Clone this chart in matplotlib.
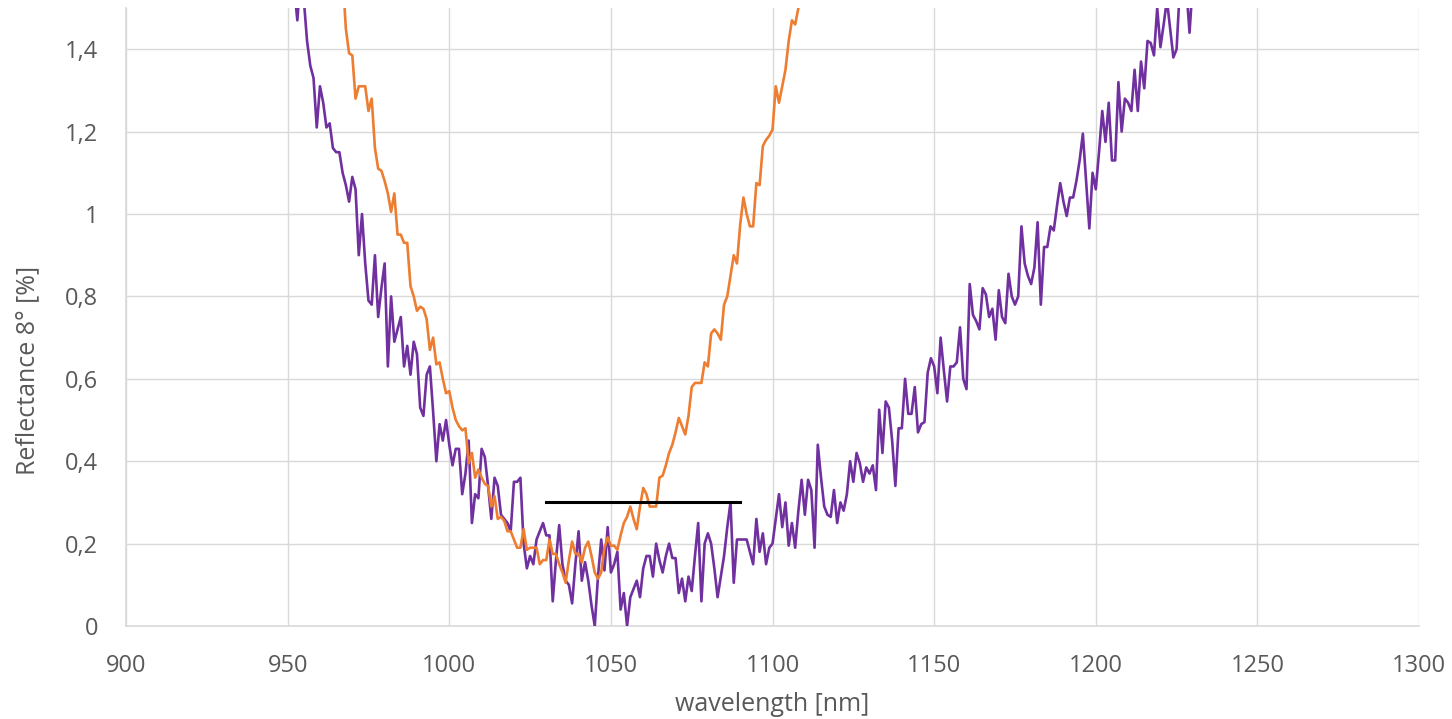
import numpy as np
import matplotlib
matplotlib.use("Agg")
import matplotlib.pyplot as plt

# purple curve, one value per nm, 951..1230
purple_start = 951
purple_vals = [
    1.62, 1.55, 1.47, 1.58, 1.52, 1.42, 1.36, 1.33, 1.21, 1.31,   # 951
    1.27, 1.21, 1.22, 1.16, 1.15, 1.15, 1.10, 1.07, 1.03, 1.09,   # 961
    1.06, 0.90, 1.00, 0.88, 0.79, 0.78, 0.90, 0.75, 0.82, 0.88,   # 971
    0.63, 0.80, 0.69, 0.72, 0.75, 0.63, 0.68, 0.61, 0.69, 0.66,   # 981
    0.53, 0.51, 0.61, 0.63, 0.52, 0.40, 0.49, 0.45, 0.50, 0.44,   # 991
    0.39, 0.43, 0.43, 0.32, 0.37, 0.45, 0.25, 0.32, 0.31, 0.43,   # 1001
    0.41, 0.34, 0.26, 0.36, 0.34, 0.27, 0.26, 0.25, 0.23, 0.35,   # 1011
    0.35, 0.36, 0.20, 0.14, 0.17, 0.15, 0.21, 0.23, 0.25, 0.22,   # 1021
    0.22, 0.06, 0.16, 0.245, 0.15, 0.11, 0.10, 0.055, 0.15, 0.23, # 1031
    0.11, 0.155, 0.11, 0.05, 0.0, 0.12, 0.21, 0.135, 0.24, 0.13,  # 1041
    0.15, 0.18, 0.04, 0.08, 0.0, 0.07, 0.09, 0.11, 0.07, 0.14,    # 1051
    0.17, 0.17, 0.12, 0.20, 0.16, 0.13, 0.17, 0.20, 0.165, 0.165, # 1061
    0.08, 0.115, 0.06, 0.12, 0.085, 0.17, 0.25, 0.06, 0.20, 0.225,# 1071
    0.20, 0.14, 0.07, 0.12, 0.17, 0.24, 0.30, 0.105, 0.21, 0.21,  # 1081
    0.21, 0.21, 0.18, 0.15, 0.26, 0.18, 0.225, 0.15, 0.19, 0.20,  # 1091
    0.26, 0.32, 0.24, 0.30, 0.195, 0.25, 0.19, 0.28, 0.355, 0.27, # 1101
    0.355, 0.33, 0.19, 0.44, 0.36, 0.29, 0.27, 0.265, 0.33, 0.25, # 1111
    0.30, 0.28, 0.32, 0.40, 0.35, 0.42, 0.395, 0.35, 0.385, 0.37, # 1121
    0.39, 0.33, 0.525, 0.42, 0.545, 0.53, 0.45, 0.34, 0.48, 0.48, # 1131
    0.60, 0.515, 0.515, 0.58, 0.47, 0.49, 0.495, 0.615, 0.65, 0.63,  # 1141
    0.565, 0.70, 0.62, 0.545, 0.63, 0.63, 0.64, 0.725, 0.60, 0.575,  # 1151
    0.83, 0.755, 0.74, 0.72, 0.82, 0.805, 0.75, 0.77, 0.695, 0.815,  # 1161
    0.75, 0.735, 0.855, 0.80, 0.78, 0.80, 0.97, 0.88, 0.85, 0.83,    # 1171
    0.87, 0.98, 0.78, 0.92, 0.92, 0.97, 0.96, 1.02, 1.075, 1.03,     # 1181
    0.995, 1.04, 1.04, 1.08, 1.13, 1.195, 1.08, 0.965, 1.10, 1.06,   # 1191
    1.15, 1.25, 1.175, 1.27, 1.13, 1.13, 1.32, 1.20, 1.28, 1.27,     # 1201
    1.25, 1.35, 1.25, 1.37, 1.305, 1.42, 1.415, 1.385, 1.50, 1.405,  # 1211
    1.46, 1.52, 1.45, 1.38, 1.40, 1.55, 1.52, 1.55, 1.44, 1.56,      # 1221
]

# orange curve, one value per nm, 967..1109
orange_start = 967
orange_vals = [
    1.58, 1.45, 1.39, 1.385, 1.28, 1.31, 1.31, 1.31, 1.25, 1.28,     # 967
    1.16, 1.11, 1.105, 1.08, 1.05, 1.005, 1.05, 0.95, 0.95, 0.93,    # 977
    0.93, 0.825, 0.80, 0.765, 0.775, 0.77, 0.745, 0.67, 0.70, 0.635, # 987
    0.64, 0.60, 0.565, 0.57, 0.53, 0.50, 0.485, 0.475, 0.48, 0.395,  # 997
    0.42, 0.36, 0.38, 0.36, 0.345, 0.34, 0.29, 0.315, 0.26, 0.265,   # 1007
    0.255, 0.23, 0.23, 0.21, 0.19, 0.19, 0.235, 0.185, 0.19, 0.19,   # 1017
    0.19, 0.15, 0.16, 0.16, 0.21, 0.175, 0.175, 0.15, 0.13, 0.105,   # 1027
    0.16, 0.205, 0.175, 0.175, 0.155, 0.19, 0.205, 0.17, 0.13, 0.115,# 1037
    0.13, 0.19, 0.215, 0.195, 0.195, 0.185, 0.22, 0.25, 0.265, 0.29, # 1047
    0.26, 0.235, 0.29, 0.335, 0.32, 0.29, 0.29, 0.29, 0.36, 0.365,   # 1057
    0.39, 0.42, 0.44, 0.47, 0.505, 0.485, 0.465, 0.51, 0.58, 0.59,   # 1067
    0.59, 0.59, 0.64, 0.63, 0.71, 0.72, 0.71, 0.695, 0.78, 0.80,     # 1077
    0.85, 0.90, 0.88, 0.975, 1.04, 1.00, 0.97, 0.97, 1.075, 1.07,    # 1087
    1.165, 1.18, 1.19, 1.205, 1.31, 1.27, 1.31, 1.35, 1.42, 1.47,    # 1097
    1.46, 1.50, 1.58,                                                # 1107
]

# black reference line
ref_x = [1030, 1090]
ref_y = [0.3, 0.3]

yticks = [0, 0.2, 0.4, 0.6, 0.8, 1.0, 1.2, 1.4]
ytick_labels = ["0", "0,2", "0,4", "0,6", "0,8", "1", "1,2", "1,4"]
xticks = [900, 950, 1000, 1050, 1100, 1150, 1200, 1250, 1300]

purple_x = np.arange(purple_start, purple_start + len(purple_vals))
orange_x = np.arange(orange_start, orange_start + len(orange_vals))

plt.rcParams['font.family'] = ['Open Sans', 'DejaVu Sans']
txt = '#595959'
grid = '#d9d9d9'

fig = plt.figure(figsize=(14.52, 7.19), dpi=100)
ax = fig.add_axes([0.0868, 0.1293, 0.8905, 0.8596])

ax.plot(purple_x, purple_vals, color='#7030A0', lw=1.9, zorder=3)
ax.plot(orange_x, orange_vals, color='#ED7D31', lw=1.9, zorder=4)
ax.plot(ref_x, ref_y, color='black', lw=2.2, zorder=5)

ax.set_xlim(900, 1300)
ax.set_ylim(0, 1.5)
ax.set_xticks(xticks)
ax.set_yticks(yticks)
ax.set_yticklabels(ytick_labels)
ax.grid(True, color=grid, lw=1.0, zorder=0)
ax.set_axisbelow(True)
for s in ['top', 'right']:
    ax.spines[s].set_visible(False)
for s in ['left', 'bottom']:
    ax.spines[s].set_color(grid)
    ax.spines[s].set_linewidth(1.2)
ax.tick_params(axis='both', length=0, labelsize=17, colors=txt)
ax.tick_params(axis='x', pad=20)
ax.tick_params(axis='y', pad=20)

ax.set_xlabel('wavelength [nm]', fontsize=18, color=txt, labelpad=10)
ax.set_ylabel('Reflectance 8° [%]', fontsize=18, color=txt)
ax.yaxis.set_label_coords(-0.066, 0.414)

fig.savefig('out.png', dpi=100)
plt.close()
